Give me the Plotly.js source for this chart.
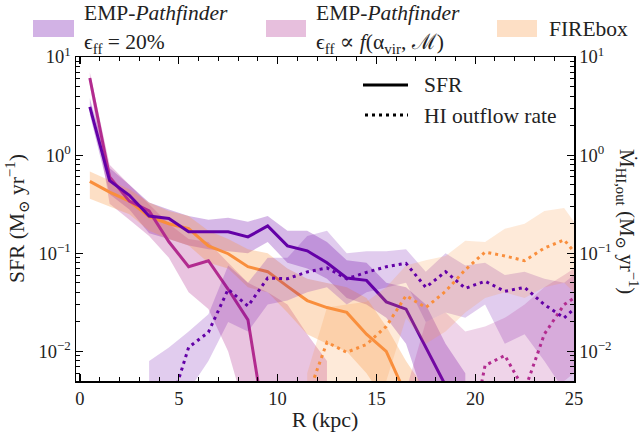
<!DOCTYPE html>
<html>
<head>
<meta charset="utf-8">
<script src="https://cdn.plot.ly/plotly-3.0.1.min.js"></script>
<style>
  html, body { margin: 0; padding: 0; background: #fff; }
  #chart { width: 641px; height: 437px; }
</style>
</head>
<body>
<div id="chart"></div>
<script>
// Galactocentric radius of each annulus (kpc)
const radius = [0.5, 1.5, 2.5, 3.5, 4.5, 5.5, 6.5, 7.5, 8.5, 9.5, 10.5, 11.5, 12.5,
                13.5, 14.5, 15.5, 16.5, 17.5, 18.5, 19.5, 20.5, 21.5, 22.5, 23.5, 24.5, 25];
const N = null;

// EMP-Pathfinder, eps_ff = 20%
const empSfr    = [3.1, 0.55, 0.39, 0.24, 0.226, 0.166, 0.166, 0.166, 0.147, 0.19, 0.119, 0.106, 0.080,
                   0.056, 0.053, 0.032, 0.027, 0.011, 0.0045, N, N, N, N, N, N, N];
const empSfrLo  = [2.6, 0.40, 0.28, 0.16, 0.14, 0.12, 0.11, 0.105, 0.10, 0.13, 0.08, 0.07, 0.055,
                   0.035, 0.03, 0.022, 0.012, 0.003, 0.001, 0.001, N, N, N, N, N, N];
const empSfrHi  = [3.8, 0.74, 0.50, 0.33, 0.28, 0.24, 0.22, 0.23, 0.21, 0.24, 0.17, 0.17, 0.13,
                   0.085, 0.08, 0.05, 0.045, 0.03, 0.012, 0.006, N, N, N, N, N, N];
const empOut    = [N, N, N, N, 0.0025, 0.011, 0.0157, 0.043, 0.029, 0.056, 0.055, 0.0646, 0.071,
                   0.055, 0.064, 0.073, 0.079, 0.045, 0.065, 0.044, 0.052, 0.041, 0.045, 0.030, 0.022, 0.027];
const empOutLo  = [N, N, N, 0.001, 0.002, 0.004, 0.008, 0.02, 0.016, 0.03, 0.033, 0.04, 0.045,
                   0.03, 0.04, 0.045, 0.05, 0.02, 0.025, 0.022, 0.03, 0.012, 0.015, 0.008, 0.004, 0.003];
const empOutHi  = [N, N, N, 0.008, 0.011, 0.016, 0.024, 0.075, 0.05, 0.09, 0.09, 0.15, 0.17,
                   0.10, 0.105, 0.105, 0.11, 0.065, 0.10, 0.075, 0.08, 0.06, 0.065, 0.055, 0.05, 0.06];

// EMP-Pathfinder, eps_ff from virial parameter and Mach number
const varSfr    = [6.1, 0.6, 0.34, 0.27, 0.131, 0.073, 0.084, 0.043, 0.021, 0.0012, N, N, N,
                   N, N, N, N, N, N, N, N, N, N, N, N, N];
const varSfrLo  = [5.2, 0.32, 0.22, 0.15, 0.09, 0.04, 0.027, 0.01, 0.002, 0.001, 0.001, 0.001, 0.001,
                   N, N, N, N, N, N, N, N, N, N, N, N, N];
const varSfrHi  = [7.0, 0.8, 0.5, 0.32, 0.2, 0.14, 0.13, 0.08, 0.05, 0.04, 0.03, 0.015, 0.008,
                   N, N, N, N, N, N, N, N, N, N, N, N, N];
const varOut    = [N, N, N, N, N, N, N, N, N, N, N, N, N,
                   N, N, N, N, N, N, 0.0007, 0.0072, 0.0091, 0.004, 0.015, 0.030, 0.035];
const varOutLo  = [N, N, N, N, N, N, N, N, N, N, N, N, N,
                   N, N, N, 0.001, 0.001, 0.001, 0.001, 0.001, 0.001, 0.001, 0.002, 0.005, 0.006];
const varOutHi  = [N, N, N, N, N, N, N, N, N, N, N, N, N,
                   N, N, N, 0.004, 0.02, 0.025, 0.016, 0.018, 0.022, 0.03, 0.045, 0.06, 0.07];

// FIREbox
const fbSfr     = [0.54, 0.42, 0.34, 0.236, 0.20, 0.178, 0.119, 0.099, 0.073, 0.065, 0.046, 0.033, 0.028,
                   0.025, 0.015, 0.010, 0.0036, N, N, N, N, N, N, N, N, N];
const fbSfrLo   = [0.36, 0.3, 0.25, 0.17, 0.14, 0.12, 0.08, 0.07, 0.045, 0.04, 0.025, 0.015, 0.012,
                   0.01, 0.006, 0.003, 0.001, 0.001, N, N, N, N, N, N, N, N];
const fbSfrHi   = [0.68, 0.55, 0.45, 0.33, 0.27, 0.24, 0.17, 0.14, 0.11, 0.10, 0.07, 0.055, 0.05,
                   0.045, 0.035, 0.018, 0.008, 0.004, N, N, N, N, N, N, N, N];
const fbOut     = [N, N, N, N, N, N, N, N, N, N, N, 0.0034, 0.0124,
                   0.0098, 0.0118, 0.018, 0.037, 0.028, 0.041, 0.068, 0.103, 0.094, 0.084, 0.113, 0.137, 0.104];
const fbOutLo   = [N, N, N, N, N, N, N, N, N, N, N, 0.001, 0.002,
                   0.002, 0.003, 0.005, 0.022, 0.012, 0.016, 0.025, 0.035, 0.04, 0.035, 0.045, 0.05, 0.04];
const fbOutHi   = [N, N, N, N, N, N, N, N, N, N, N, 0.006, 0.028,
                   0.03, 0.032, 0.045, 0.075, 0.085, 0.094, 0.134, 0.13, 0.178, 0.2, 0.27, 0.29, 0.21];

const colEmp = '#6300a7';
const colVar = '#b22b8f';
const colFb  = '#f98e3c';
// star-formation bands are a touch stronger than the outflow bands
const sfrBand = { emp: 'rgba(106,0,168,0.28)', vr: 'rgba(177,42,144,0.28)', fb: 'rgba(248,149,64,0.3)' };
const outBand = { emp: 'rgba(106,0,168,0.2)',  vr: 'rgba(177,42,144,0.2)',  fb: 'rgba(248,149,64,0.2)' };

const FONT = '"Liberation Serif", "DejaVu Serif", serif';

// closed polygon between lower and upper percentile curves
function band(lo, hi, color, yaxis) {
  const xs = [], up = [], dn = [];
  for (let i = 0; i < radius.length; i++) {
    if (lo[i] !== null && hi[i] !== null) { xs.push(radius[i]); up.push(hi[i]); dn.push(lo[i]); }
  }
  return {
    x: xs.concat(xs.slice().reverse()),
    y: up.concat(dn.slice().reverse()),
    type: 'scatter', mode: 'lines', fill: 'toself', fillcolor: color,
    line: { width: 0, color: color }, hoverinfo: 'skip', showlegend: false, yaxis: yaxis
  };
}
function curve(y, color, dotted, yaxis) {
  return {
    x: radius, y: y, type: 'scatter', mode: 'lines', connectgaps: false,
    line: { color: color, width: 3, dash: dotted ? '3px,4px' : 'solid' },
    showlegend: false, yaxis: yaxis
  };
}

const traces = [
  band(empSfrLo, empSfrHi, sfrBand.emp, 'y'),
  band(empOutLo, empOutHi, outBand.emp, 'y2'),
  band(varSfrLo, varSfrHi, sfrBand.vr, 'y'),
  band(varOutLo, varOutHi, outBand.vr, 'y2'),
  band(fbSfrLo, fbSfrHi, sfrBand.fb, 'y'),
  band(fbOutLo, fbOutHi, outBand.fb, 'y2'),
  curve(fbSfr, colFb, false, 'y'),
  curve(fbOut, colFb, true, 'y2'),
  curve(varSfr, colVar, false, 'y'),
  curve(varOut, colVar, true, 'y2'),
  curve(empSfr, colEmp, false, 'y'),
  curve(empOut, colEmp, true, 'y2')
];

const logTicks = [0.01, 0.1, 1, 10];
const logText = ['10<sup>−2</sup>', '10<sup>−1</sup>', '10<sup>0</sup>', '10<sup>1</sup>'];
const minorLog = [];
[0.001, 0.01, 0.1, 1].forEach(d => { for (let k = 2; k <= 9; k++) minorLog.push(d * k); });

const yRange = [Math.log10(0.005), 1];
const yCommon = {
  type: 'log', range: yRange, tickvals: logTicks, ticktext: logText,
  ticks: 'inside', ticklen: 7, tickwidth: 1.3, tickcolor: '#000',
  showline: true, linecolor: '#000', linewidth: 1.5, showgrid: false, zeroline: false,
  tickfont: { family: FONT, size: 18.5, color: '#222' },
  minor: { tickmode: 'array', tickvals: minorLog, ticks: 'inside', ticklen: 4, tickwidth: 1, tickcolor: '#000', showgrid: false },
  fixedrange: true
};

// pixel -> paper helpers for legend placement
const L = 76, R = 574, T = 57, B = 381;
const px = v => (v - L) / (R - L);
const py = v => (B - v) / (B - T);

const shapes = [
  { type: 'rect', xref: 'paper', yref: 'paper', x0: px(33), x1: px(74), y0: py(37), y1: py(20), fillcolor: 'rgba(106,0,168,0.3)', line: { width: 0 } },
  { type: 'rect', xref: 'paper', yref: 'paper', x0: px(266), x1: px(306), y0: py(37), y1: py(20), fillcolor: 'rgba(177,42,144,0.3)', line: { width: 0 } },
  { type: 'rect', xref: 'paper', yref: 'paper', x0: px(497), x1: px(537), y0: py(37), y1: py(20), fillcolor: 'rgba(248,149,64,0.3)', line: { width: 0 } },
  { type: 'line', xref: 'paper', yref: 'paper', x0: px(363), x1: px(408), y0: py(85), y1: py(85), line: { color: '#000', width: 3 } },
  { type: 'line', xref: 'paper', yref: 'paper', x0: px(365), x1: px(408), y0: py(115), y1: py(115), line: { color: '#000', width: 3, dash: '3px,4px' } }
];

const txt = (x, y, text, size, extra) => Object.assign({
  xref: 'paper', yref: 'paper', x: px(x), y: py(y), text: text, showarrow: false,
  xanchor: 'left', yanchor: 'middle', font: { family: FONT, size: size || 21.5, color: '#222' }
}, extra || {});

const annotations = [
  txt(82, 13, 'EMP-<i>Pathfinder</i>'),
  txt(82, 43, 'ϵ<sub>ff</sub> = 20%'),
  txt(314, 13, 'EMP-<i>Pathfinder</i>'),
  txt(314, 43, 'ϵ<sub>ff</sub> ∝ <i>f</i>(α<sub>vir</sub>, ℳ)'),
  txt(547, 29, 'FIREbox'),
  txt(422, 85, 'SFR'),
  txt(422, 116, 'HI outflow rate'),
  txt(17, 219, 'SFR (M<sub>⊙</sub> yr<sup>−1</sup>)', 21.5, { xanchor: 'center', textangle: -90 }),
  txt(628, 221, 'Ṁ<sub>HI,out</sub> (M<sub>⊙</sub> yr<sup>−1</sup>)', 21, { xanchor: 'center', textangle: 90 })
];

const layout = {
  width: 641, height: 437,
  margin: { l: L, r: 641 - R, t: T, b: 437 - B, pad: 0 },
  paper_bgcolor: '#fff', plot_bgcolor: '#fff',
  showlegend: false,
  font: { family: FONT, color: '#222' },
  xaxis: {
    range: [-0.2, 25], tickvals: [0, 5, 10, 15, 20, 25],
    ticks: 'inside', ticklen: 7, tickwidth: 1.3, tickcolor: '#000',
    showline: true, linecolor: '#000', linewidth: 1.5, mirror: 'ticks',
    showgrid: false, zeroline: false,
    tickfont: { family: FONT, size: 18.5, color: '#222' },
    minor: { dtick: 1, tick0: 0, ticks: 'inside', ticklen: 4, tickwidth: 1, tickcolor: '#000', showgrid: false },
    title: { text: 'R (kpc)', font: { family: FONT, size: 22, color: '#222' }, standoff: 4 },
    fixedrange: true
  },
  yaxis: Object.assign({}, yCommon, { side: 'left' }),
  yaxis2: Object.assign({}, yCommon, { side: 'right', overlaying: 'y' }),
  shapes: shapes,
  annotations: annotations
};

Plotly.newPlot('chart', traces, layout, { displayModeBar: false, staticPlot: true });
</script>
</body>
</html>
